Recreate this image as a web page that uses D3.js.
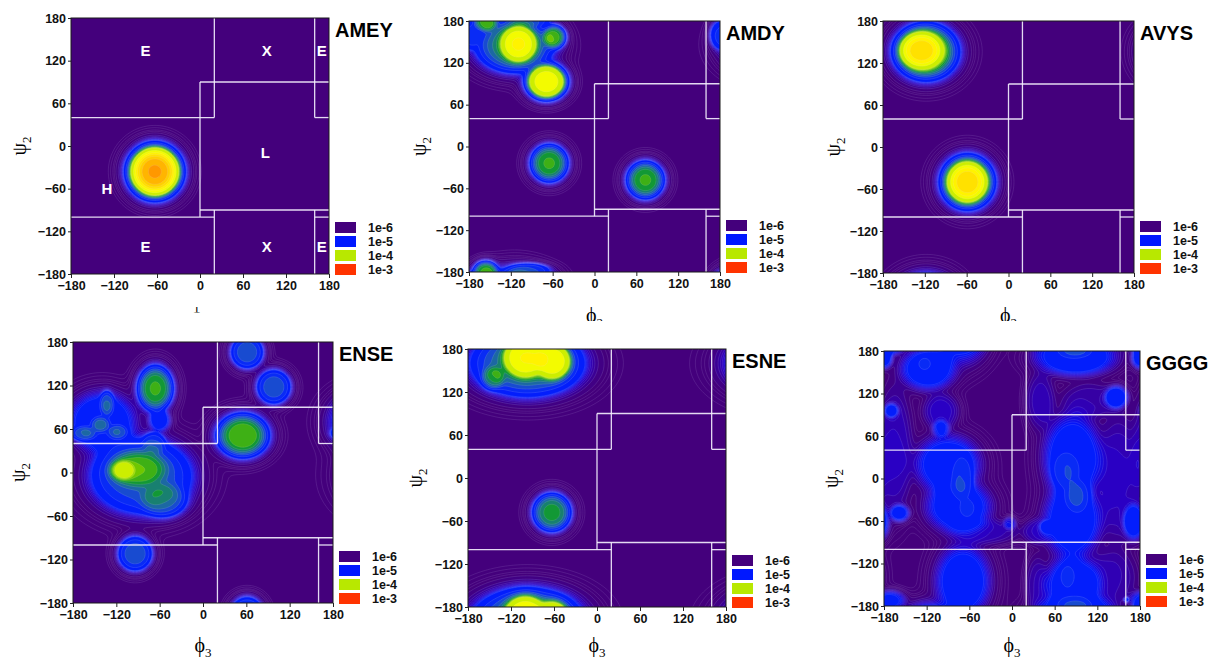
<!DOCTYPE html>
<html>
<head>
<meta charset="utf-8">
<script src="https://cdn.jsdelivr.net/npm/d3@7"></script>
<style>
  body { margin: 0; background: #fff; }
  svg { display: block; }
  .sans { font-family: "Liberation Sans", Arial, Helvetica, sans-serif; font-weight: bold; }
  .serif { font-family: "Liberation Serif", "DejaVu Serif", "Times New Roman", serif; }
</style>
</head>
<body>
<svg id="chart" width="1208" height="659"></svg>
<script>
// ---------------- data ----------------
const panelNames = ["AMEY", "AMDY", "AVYS", "ENSE", "ESNE", "GGGG"];
const xAxisSub = ["2", "2", "2", "3", "3", "3"];
const yAxisSub = ["2", "2", "2", "2", "2", "2"];
const angleTicks = [-180, -120, -60, 0, 60, 120, 180];
const legendLevels = ["1e-6", "1e-5", "1e-4", "1e-3"];

// conformational region boundaries, [[phi, psi], [phi, psi]] in degrees
const regionSegments = [
  [[-180, 40], [20, 40]],
  [[20, 180], [20, 40]],
  [[0, 90], [0, -100]],
  [[0, 90], [180, 90]],
  [[0, -90], [180, -90]],
  [[-180, -100], [20, -100]],
  [[20, -90], [20, -180]],
  [[160, 180], [160, 40]],
  [[160, 40], [180, 40]],
  [[160, -90], [160, -180]],
  [[160, -100], [180, -100]]
];
const regionLetters   = ["E", "X", "E", "L", "H", "E", "X", "E"];
const regionLetterPhi = [-76, 93, 170, 91, -130, -76, 93, 170];
const regionLetterPsi = [134, 134, 134, -9, -60, -142, -142, -142];

// density peaks: [phi, psi, spread in phi, spread in psi, log10 of peak density]
const peaksAMEY = [
  [-63, -36, 28, 28, -3.15]
];
const peaksAMDY = [
  [-115, 145, 50, 35, -4.25],
  [-109, 147, 22, 22, -3.6],
  [-69, 93, 24, 21, -3.6],
  [-58, 157, 15, 15, -4.15],
  [-156, 180, 16, 14, -4.15],
  [-95, -178, 30, 10, -4.6],
  [-180, 160, 14, 20, -4.7],
  [-65, -24, 24, 24, -4.15],
  [73, -48, 24, 24, -4.15]
];
const peaksAVYS = [
  [-125, 138, 26, 22, -3.42],
  [-118, 136, 41, 36, -4.1],
  [-59, -50, 24, 24, -3.42],
  [-59, -50, 34, 34, -4.1]
];
const peaksENSE = [
  [-85, -5, 65, 48, -4.45],
  [-90, 5, 38, 24, -4.35],
  [-112, 3, 16, 13, -4.3],
  [-55, -38, 30, 22, -4.5],
  [-68, 40, 15, 15, -4.7],
  [-60, 72, 15, 15, -4.9],
  [-140, 70, 45, 40, -4.8],
  [-142, 66, 12, 10, -4.55],
  [-133, 95, 9, 16, -4.55],
  [-165, 54, 16, 9, -4.55],
  [-118, 56, 13, 9, -4.6],
  [-66, 116, 22, 28, -4.15],
  [55, 51, 32, 27, -4.1],
  [61, 166, 21, 21, -4.45],
  [98, 118, 22, 22, -4.45],
  [-94, -112, 22, 22, -4.45]
];
const peaksESNE = [
  [-100, 168, 26, 24, -3.6],
  [-62, 163, 22, 22, -3.65],
  [-97, 160, 71, 42, -4.3],
  [-145, 140, 15, 15, -4.45],
  [-63, -48, 24, 24, -4.2]
];
const peaksGGGG = [
  [-118, 155, 38, 30, -4.85],
  [-123, 162, 9, 9, -4.95],
  [-180, 170, 12, 15, -4.9],
  [-90, 20, 45, 40, -4.85],
  [-75, -40, 45, 35, -4.85],
  [-70, 0, 14, 30, -4.8],
  [-63, -42, 10, 12, -4.85],
  [-158, -49, 14, 12, -4.95],
  [-69, -145, 38, 50, -4.85],
  [-172, -172, 22, 14, -4.95],
  [85, 30, 40, 60, -4.85],
  [85, -60, 40, 50, -4.85],
  [85, -150, 38, 40, -4.85],
  [76, 12, 18, 24, -4.8],
  [92, -25, 16, 22, -4.8],
  [78, -138, 10, 16, -4.9],
  [90, 170, 55, 25, -4.85],
  [90, 180, 20, 8, -4.95],
  [147, 115, 16, 16, -4.88],
  [172, -62, 15, 25, -4.9],
  [-165, 40, 25, 90, -5.3],
  [-100, 95, 25, 25, -5.25],
  [150, 0, 30, 90, -5.3],
  [140, -140, 35, 40, -5.4],
  [-40, -75, 50, 18, -5.35],
  [35, -75, 20, 18, -5.35],
  [40, 110, 20, 40, -5.35],
  [35, -150, 15, 40, -5.45],
  [110, 110, 40, 25, -5.45],
  [-170, 96, 10, 10, -5.05],
  [-3, -63, 9, 9, -5.2],
  [48, -68, 9, 9, -5.25],
  [-100, 70, 12, 12, -5.1],
  [161, -171, 4, 4, -5.05]
];
const panelPeaks = [peaksAMEY, peaksAMDY, peaksAVYS, peaksENSE, peaksESNE, peaksGGGG];

// ---------------- drawing ----------------
const svg = d3.select("#chart");

// plot rectangles and label placement of the six panels
const frames = [
  { x0: 71,  x1: 329,  y0: 18,  y1: 274, yLab: -45, xBase: 321.8, xClip: 312.4 },
  { x0: 469, x1: 720,  y0: 21,  y1: 272, yLab: -43, xBase: 321.8, xClip: 321 },
  { x0: 883, x1: 1134, y0: 21,  y1: 273, yLab: -43, xBase: 321.8, xClip: 321 },
  { x0: 73,  x1: 333,  y0: 342, y1: 603, yLab: -48, xBase: 651.8, xClip: 659 },
  { x0: 468, x1: 726,  y0: 349, y1: 607, yLab: -46.5, xBase: 651.8, xClip: 659 },
  { x0: 884, x1: 1140, y0: 351, y1: 606, yLab: -46.5, xBase: 651.8, xClip: 659 }
];

// contour levels m x 10^n, coloured by their position on the 1e-6 ... 1e-3 legend scale
const levelsIn = n => d3.range(1, 10).map(m => n + Math.log10(m));
const fillThresholds = [-6, -5, -4].flatMap(levelsIn).concat([-3]);
const lineThresholds = [1, 2, 4, 6].map(m => -7 + Math.log10(m)).concat(fillThresholds);

function legendPos(v) {            // 0 at 1e-6, 1 at 1e-5, 2 at 1e-4, 3 at 1e-3
  const n = Math.floor(v + 1e-9);
  return (n + 6) + (Math.pow(10, v - n) - 1) / 9;
}
const gradient = d3.scaleLinear()
  .domain([0, 0.5, 1, 1.18, 1.32, 1.47, 1.62, 1.8, 2, 2.2, 2.5, 2.7, 3])
  .range(["#44007c", "#2a00c4", "#0018ff", "#0a2cf4", "#1e58c0", "#1a7a80", "#129a30", "#60c000",
          "#b8e800", "#ffff00", "#ffd000", "#ffa000", "#ff3300"])
  .clamp(true);
const legendColors = [gradient(0), gradient(1), gradient(2), gradient(3)];

const N = 190, STEP = 2, START = -190;   // grid reaches past the ±180 edges
const wrapDeg = d => ((d + 540) % 360 + 360) % 360 - 180;

// flat-topped peak profile with an exponential skirt
const R0 = 1.15, R0_4 = Math.pow(R0, 4), SKIRT = 4 * Math.pow(R0, 3);
function profile(r2) {
  const q = Math.sqrt(r2);
  return Math.exp(-(q <= R0 ? r2 * r2 : R0_4 + SKIRT * (q - R0)));
}

function logDensity(peaks) {
  const vals = new Float64Array(N * N);
  for (let j = 0; j < N; j++) {
    const psi = START + (j + 0.5) * STEP;
    for (let i = 0; i < N; i++) {
      const phi = START + (i + 0.5) * STEP;
      let s = 0;
      for (const [p0, q0, sx, sy, L] of peaks) {
        const dx = wrapDeg(phi - p0) / sx, dy = wrapDeg(psi - q0) / sy;
        s += Math.pow(10, L) * profile(dx * dx + dy * dy);
      }
      vals[i + j * N] = Math.log10(s + 1e-14);
    }
  }
  return vals;
}

const defs = svg.append("defs");

frames.forEach((f, k) => {
  const x = d3.scaleLinear().domain([-180, 180]).range([f.x0, f.x1]);
  const y = d3.scaleLinear().domain([-180, 180]).range([f.y1, f.y0]);
  const g = svg.append("g");

  defs.append("clipPath").attr("id", "plot" + k)
    .append("rect").attr("x", f.x0).attr("y", f.y0)
    .attr("width", f.x1 - f.x0).attr("height", f.y1 - f.y0);

  const plot = g.append("g").attr("clip-path", `url(#plot${k})`);
  plot.append("rect").attr("x", f.x0).attr("y", f.y0)
    .attr("width", f.x1 - f.x0).attr("height", f.y1 - f.y0)
    .attr("fill", gradient(0));

  const values = logDensity(panelPeaks[k]);
  const toScreen = d3.geoTransform({
    point(gx, gy) { this.stream.point(x(START + gx * STEP), y(START + gy * STEP)); }
  });
  const path = d3.geoPath(toScreen);

  const fills = d3.contours().size([N, N]).thresholds(fillThresholds)(values);
  fills.forEach((c, i) => {
    const hi = i + 1 < fillThresholds.length ? fillThresholds[i + 1] : c.value;
    c.col = gradient((legendPos(c.value) + legendPos(hi)) / 2);
  });
  plot.append("g").selectAll("path").data(fills).join("path")
    .attr("d", path)
    .attr("fill", d => d.col)
    .attr("stroke", d => d.col)
    .attr("stroke-width", 0.3);

  const lines = d3.contours().size([N, N]).thresholds(lineThresholds)(values);
  plot.append("g").selectAll("path").data(lines).join("path")
    .attr("d", path)
    .attr("fill", "none")
    .attr("stroke", d => d.value < -6.01 ? "rgba(225,215,255,0.24)" : "rgba(232,224,255,0.26)")
    .attr("stroke-width", 0.5);

  // region boundaries
  plot.append("g").selectAll("line").data(regionSegments).join("line")
    .attr("x1", d => x(d[0][0])).attr("y1", d => y(d[0][1]))
    .attr("x2", d => x(d[1][0])).attr("y2", d => y(d[1][1]))
    .attr("stroke", "#f6f2ff").attr("stroke-width", 1.3).attr("stroke-opacity", 0.9);

  if (k === 0) {
    plot.append("g").selectAll("text").data(regionLetters).join("text")
      .attr("class", "sans")
      .attr("x", (d, i) => x(regionLetterPhi[i]))
      .attr("y", (d, i) => y(regionLetterPsi[i]))
      .attr("dy", "0.36em")
      .attr("text-anchor", "middle")
      .attr("font-size", 15).attr("fill", "#fff")
      .text(d => d);
  }

  g.append("rect").attr("x", f.x0).attr("y", f.y0)
    .attr("width", f.x1 - f.x0).attr("height", f.y1 - f.y0)
    .attr("fill", "none").attr("stroke", "#1a1a1a").attr("stroke-width", 1);

  // axes
  const ax = g.append("g").attr("transform", `translate(0,${f.y1})`)
    .call(d3.axisBottom(x).tickValues(angleTicks).tickSize(4).tickSizeOuter(0).tickPadding(3));
  const ay = g.append("g").attr("transform", `translate(${f.x0},0)`)
    .call(d3.axisLeft(y).tickValues(angleTicks).tickSize(3).tickSizeOuter(0).tickPadding(2));
  [ax, ay].forEach(a => {
    a.select(".domain").remove();
    a.selectAll(".tick line").attr("stroke", "#222");
    a.selectAll(".tick text").attr("class", "sans").attr("font-size", 12.5).attr("fill", "#111");
  });

  // title
  g.append("text").attr("class", "sans")
    .attr("x", f.x1 + 6).attr("y", f.y0 + 19)
    .attr("font-size", 20).attr("fill", "#000")
    .text(panelNames[k]);

  // legend
  const leg = g.append("g");
  legendLevels.forEach((lab, i) => {
    const top = f.y1 + 1 - 11 - 14 * (3 - i);
    leg.append("rect").attr("x", f.x1 + 6).attr("y", top)
      .attr("width", 21).attr("height", 11).attr("fill", legendColors[i]);
    leg.append("text").attr("class", "sans")
      .attr("x", f.x1 + 39).attr("y", top + 5.5).attr("dy", "0.36em")
      .attr("font-size", 12.5).attr("fill", "#111").text(lab);
  });

  // axis titles
  const yl = g.append("text").attr("class", "serif")
    .attr("transform", `translate(${f.x0 + f.yLab},${(f.y0 + f.y1) / 2}) rotate(-90)`)
    .attr("text-anchor", "middle").attr("font-size", 20).attr("fill", "#000");
  yl.append("tspan").text("ψ");
  yl.append("tspan").attr("font-size", 13).attr("dy", 5).text(yAxisSub[k]);

  defs.append("clipPath").attr("id", "xl" + k)
    .append("rect").attr("x", f.x0 - 60).attr("y", f.y1)
    .attr("width", f.x1 - f.x0 + 120).attr("height", f.xClip - f.y1);
  const xl = g.append("text").attr("class", "serif")
    .attr("clip-path", `url(#xl${k})`)
    .attr("x", (f.x0 + f.x1) / 2).attr("y", f.xBase)
    .attr("text-anchor", "middle").attr("font-size", 20).attr("fill", "#000");
  xl.append("tspan").text("ϕ");
  xl.append("tspan").attr("font-size", 13).attr("dy", 5).text(xAxisSub[k]);
});
</script>
</body>
</html>
